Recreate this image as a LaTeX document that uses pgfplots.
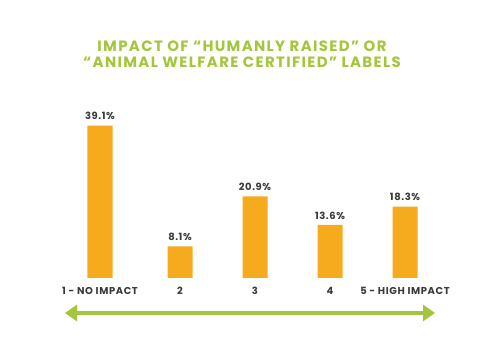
\documentclass[border=0pt]{standalone}
\usepackage{fontspec}
\setmainfont{Poppins}
\newfontfamily\widefont{Poppins}[LetterSpace=6]
\newfontfamily\titlefont{Poppins}[LetterSpace=9]
\usepackage{pgfplots}
\pgfplotsset{compat=1.18}
\usetikzlibrary{arrows.meta}
\definecolor{barorange}{HTML}{F5AB1D}
\definecolor{titlegreen}{HTML}{A3C63C}
\definecolor{txtgray}{HTML}{3A3A3A}
\begin{document}
\begin{tikzpicture}
\path[use as bounding box] (0,0) rectangle (500bp,357bp);
\begin{axis}[
  at={(0,79bp)}, anchor=south west,
  scale only axis, width=500bp, height=195bp,
  xmin=0, xmax=500, ymin=0, ymax=50,
  clip=false,
  axis y line=none,
  axis x line=bottom,
  x axis line style={draw=none},
  major tick length=0pt,
  ytick=\empty,
  xtick=data,
  xticklabels={1 - NO IMPACT,2,3,4,5 - HIGH IMPACT},
  xticklabel style={font=\widefont\fontsize{10}{11}\selectfont\bfseries, text=txtgray, yshift=-6bp},
  ybar, bar width=25bp, bar shift=0pt,
  nodes near coords={\pgfmathprintnumber[fixed,precision=1,fixed zerofill,assume math mode=true]{\pgfplotspointmeta}\%},
  nodes near coords style={font=\widefont\fontsize{10}{11}\selectfont\bfseries, text=txtgray, yshift=2bp},
]
\addplot[fill=barorange, draw=none] coordinates {(100,39.1) (180,8.1) (255,20.9) (330,13.6) (405,18.3)};
\end{axis}
\node[font=\titlefont\fontsize{15}{16.5}\selectfont\bfseries, text=titlegreen, align=center] at (242bp,303bp) {IMPACT OF “HUMANLY RAISED” OR\\“ANIMAL WELFARE CERTIFIED” LABELS};
\draw[titlegreen, line width=4.5bp, {Triangle[length=12bp,width=16bp]}-{Triangle[length=12bp,width=16bp]}] (65bp,44bp) -- (435bp,44bp);
\end{tikzpicture}
\end{document}
